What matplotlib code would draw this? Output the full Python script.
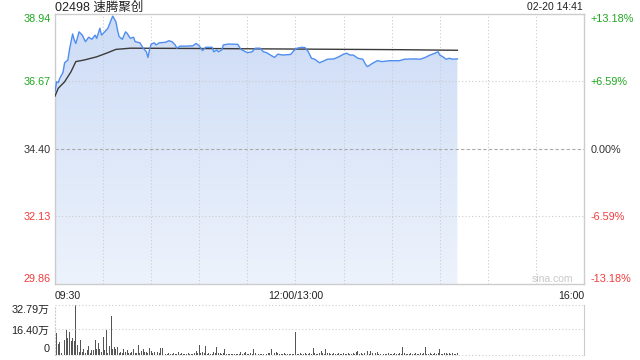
import numpy as np
import matplotlib
matplotlib.use('Agg')
import matplotlib.pyplot as plt
from matplotlib.patches import PathPatch
from matplotlib.colors import LinearSegmentedColormap

plt.rcParams['font.family'] = ['Liberation Sans', 'Noto Sans CJK SC', 'DejaVu Sans']

# 文本
title = '02498 速腾聚创'
stamp = '02-20 14:41'
watermark = 'sina.com'

# 坐标轴刻度
price_ticks = [29.86, 32.13, 34.40, 36.67, 38.94]
price_labels = ['29.86', '32.13', '34.40', '36.67', '38.94']
pct_labels = ['-13.18%', '-6.59%', '0.00%', '+6.59%', '+13.18%']
time_ticks = [0, 150, 330]
time_labels = ['09:30', '12:00/13:00', '16:00']
vol_ticks = [0, 16.40, 32.79]
vol_labels = ['0', '16.40万', '32.79万']

# 价格 (分钟数从 09:30 起, 午休不计)
price_min = [0, 1, 2, 3, 5, 6, 8, 9, 10, 11,
             12, 13, 15, 17, 19, 21, 23, 25, 26, 28,
             29, 31, 33, 35, 36, 38, 39, 40, 42, 44,
             45, 47, 49, 50, 53, 55, 57, 58, 59, 60,
             62, 63, 65, 69, 71, 73, 75, 76, 78, 82,
             86, 88, 90, 92, 94, 98, 99, 101, 102, 104,
             105, 108, 114, 116, 119, 120, 123, 125, 128, 130,
             132, 135, 137, 139, 142, 147, 149, 151, 154, 156,
             158, 160, 162, 165, 168, 170, 174, 177, 180, 182,
             184, 186, 189, 192, 194, 195, 198, 201, 204, 209,
             215, 218, 224, 228, 231, 234, 237, 239, 240, 242,
             244, 246, 248, 251]
price = [36.33, 36.66, 36.63, 36.78, 36.98, 37.30, 37.39, 37.73, 38.01, 38.27,
         38.07, 37.95, 38.34, 38.23, 38.01, 38.16, 38.09, 38.23, 38.12, 38.46,
         38.23, 38.34, 38.46, 38.74, 38.87, 38.68, 38.40, 38.18, 38.09, 38.34,
         38.29, 38.12, 38.16, 38.01, 37.97, 37.79, 37.67, 37.48, 37.75, 37.93,
         37.97, 37.90, 37.97, 37.99, 38.04, 38.01, 37.90, 37.79, 37.86, 37.86,
         37.87, 37.95, 37.87, 37.71, 37.82, 37.82, 37.67, 37.73, 37.67, 37.73,
         37.90, 37.93, 37.92, 37.75, 37.67, 37.64, 37.67, 37.79, 37.79, 37.67,
         37.64, 37.54, 37.48, 37.59, 37.56, 37.58, 37.71, 37.79, 37.82, 37.81,
         37.67, 37.45, 37.42, 37.30, 37.37, 37.42, 37.43, 37.50, 37.59, 37.62,
         37.56, 37.56, 37.45, 37.42, 37.22, 37.17, 37.28, 37.37, 37.34, 37.37,
         37.37, 37.42, 37.43, 37.42, 37.48, 37.56, 37.62, 37.67, 37.56, 37.50,
         37.42, 37.45, 37.42, 37.43]

# 均价
avg_min = [0, 2, 6, 10, 13, 18, 26, 32, 38, 47, 90, 153, 215, 251]
avg_price = [36.18, 36.44, 36.66, 37.00, 37.34, 37.39, 37.50, 37.62, 37.75, 37.79,
             37.78, 37.76, 37.74, 37.72]

# 成交量 (万), 每分钟一根
volume = [28.6, 13.8, 6.6, 8.3, 0.8, 12.0, 9.4, 16.0, 11.0, 14.7,
          9.0, 11.0, 9.0, 32.4, 6.1, 1.7, 9.4, 1.7, 3.3, 1.0,
          2.8, 5.5, 0.7, 2.8, 2.8, 9.8, 3.3, 7.7, 3.9, 1.5,
          11.6, 2.8, 16.0, 0.7, 5.5, 25.2, 3.3, 4.6, 3.3, 4.6,
          1.1, 1.7, 1.1, 3.3, 1.7, 2.8, 0.7, 1.1, 1.7, 3.3,
          1.0, 0.8, 6.1, 1.0, 2.4, 3.3, 1.7, 1.7, 1.0, 4.2,
          2.0, 0.8, 1.5, 4.2, 1.5, 0.7, 4.2, 4.2, 1.5, 0.6,
          0.5, 0.7, 0.6, 0.5, 0.7, 0.6, 0.5, 1.7, 0.6, 1.3,
          0.5, 0.6, 0.5, 1.1, 0.5, 0.6, 0.4, 0.7, 2.6, 0.8,
          6.3, 0.7, 1.7, 1.3, 5.7, 0.6, 0.9, 0.5, 0.6, 1.7,
          0.7, 4.8, 0.8, 1.3, 0.6, 0.7, 3.5, 0.6, 0.5, 0.4,
          0.5, 0.6, 0.4, 0.5, 0.6, 0.5, 1.5, 0.6, 0.7, 1.7,
          0.6, 0.5, 0.9, 0.6, 3.5, 0.7, 1.1, 0.5, 0.6, 0.5,
          0.4, 0.6, 0.5, 0.7, 1.2, 3.5, 6.3, 0.8, 1.7, 1.1,
          0.6, 0.5, 0.6, 0.7, 0.5, 0.6, 0.5, 0.4, 0.6, 0.5,
          14.7, 0.6, 0.5, 0.7, 0.6, 0.5, 0.8, 0.6, 0.5, 0.7,
          0.6, 4.2, 1.3, 0.6, 0.5, 0.7, 2.4, 1.3, 0.6, 3.5,
          0.7, 1.3, 0.5, 0.6, 0.7, 0.5, 0.6, 0.8, 0.5, 0.6,
          0.7, 0.5, 0.6, 1.3, 0.5, 0.6, 0.7, 0.5, 1.7, 2.4,
          0.6, 1.3, 0.5, 0.7, 4.8, 2.4, 0.6, 2.6, 1.3, 0.5,
          0.7, 1.5, 0.6, 0.5, 0.7, 0.5, 0.6, 0.5, 0.7, 0.6,
          0.5, 0.6, 0.7, 0.5, 0.6, 0.8, 0.6, 4.8, 0.7, 0.6,
          0.5, 0.6, 0.7, 0.5, 0.6, 0.7, 0.5, 0.6, 0.8, 0.6,
          0.7, 4.8, 0.6, 0.5, 0.7, 0.6, 0.5, 0.8, 0.6, 0.7,
          3.5, 0.6, 0.5, 0.7, 1.1, 0.6, 1.3, 0.5, 0.7, 0.6,
          0.5, 0.7]

green = '#1fa81f'
red = '#f03c3c'
dark = '#333333'
tick_colors = [red, red, dark, green, green]
grid_kw = dict(color='#cccccc', linestyle=(0, (1, 2)), linewidth=0.8)

fig = plt.figure(figsize=(6.4, 3.6), dpi=100)
ax = fig.add_axes([55 / 640, 76 / 360, 529 / 640, 270 / 360])
axv = fig.add_axes([55 / 640, 5.5 / 360, 529 / 640, 50 / 360])

ymin, ymax = price_ticks[0], price_ticks[-1]
ax.set_xlim(0, 330)
ax.set_ylim(ymin, ymax)

# 渐变填充
cmap = LinearSegmentedColormap.from_list('fill', ['#edf3fc', '#cddcf6'])
grad = np.linspace(0, 1, 256).reshape(-1, 1)
im = ax.imshow(grad, cmap=cmap, origin='lower', aspect='auto',
               extent=[0, price_min[-1], ymin, ymax], zorder=1)
poly = ax.fill_between(price_min, price, ymin, facecolor='none', edgecolor='none')
clip = PathPatch(poly.get_paths()[0], transform=ax.transData, facecolor='none', edgecolor='none')
ax.add_patch(clip)
im.set_clip_path(clip)
ax.set_xlim(0, 330)
ax.set_ylim(ymin, ymax)

# 网格
for gx in range(30, 330, 30):
    ax.axvline(gx, zorder=2, **grid_kw)
for gy in [price_ticks[1], price_ticks[3]]:
    ax.axhline(gy, zorder=2, **grid_kw)
ax.axhline(price_ticks[2], color='#aaaaaa', linestyle=(0, (3, 2)), linewidth=0.8, zorder=2)

ax.plot(avg_min, avg_price, color='#3a3a3a', linewidth=1.0, zorder=3)
ax.plot(price_min, price, color='#4f8ef0', linewidth=1.0, zorder=4)

for s in ax.spines.values():
    s.set_color('#cccccc')
    s.set_linewidth(1)

ax.set_xticks(time_ticks)
ax.set_xticklabels(time_labels, fontsize=7.6, color='#222222')
for lab, ha in zip(ax.get_xticklabels(), ['left', 'center', 'right']):
    lab.set_ha(ha)
ax.tick_params(axis='x', length=0, pad=5)

ax.set_yticks(price_ticks)
ax.set_yticklabels(price_labels, fontsize=7.8)
ax.tick_params(axis='y', length=0, pad=3)
for i, lab in enumerate(ax.get_yticklabels()):
    lab.set_color(tick_colors[i])
ax.get_yticklabels()[0].set_va('bottom')
ax.get_yticklabels()[-1].set_va('top')

ax2 = ax.twinx()
ax2.set_ylim(ymin, ymax)
ax2.set_yticks(price_ticks)
ax2.set_yticklabels(pct_labels, fontsize=7.8)
ax2.tick_params(axis='y', length=0, pad=5)
for i, lab in enumerate(ax2.get_yticklabels()):
    lab.set_color(tick_colors[i])
ax2.get_yticklabels()[0].set_va('bottom')
ax2.get_yticklabels()[-1].set_va('top')
for s in ax2.spines.values():
    s.set_visible(False)

ax.text(0.98, 0.02, watermark, transform=ax.transAxes, ha='right', va='center',
        fontsize=7.5, color='#c8c8c8', zorder=5)

# 成交量
axv.bar(np.arange(len(volume)), volume, width=0.6, color='#555555', linewidth=0)
axv.set_xlim(0, 330)
axv.set_ylim(0, vol_ticks[-1])
for gy in vol_ticks:
    axv.axhline(gy, clip_on=False, **grid_kw)
axv.spines['top'].set_visible(False)
axv.spines['bottom'].set_visible(False)
axv.spines['left'].set_color('#cccccc')
axv.spines['left'].set_linestyle((0, (1, 2)))
axv.spines['right'].set_color('#cccccc')
axv.set_xticks([])
axv.set_yticks(vol_ticks)
axv.set_yticklabels(vol_labels, fontsize=7.8, color='#222222')
axv.tick_params(axis='y', length=0, pad=4)
axv.get_yticklabels()[0].set_va('bottom')
axv.get_yticklabels()[-1].set_va('top')

fig.text(55 / 640, 1 - 7.5 / 360, title, fontsize=9, va='center', ha='left', color='#222222')
fig.text(583 / 640, 1 - 7 / 360, stamp, fontsize=7.5, va='center', ha='right', color='#222222')

fig.savefig('out.png', dpi=100)
